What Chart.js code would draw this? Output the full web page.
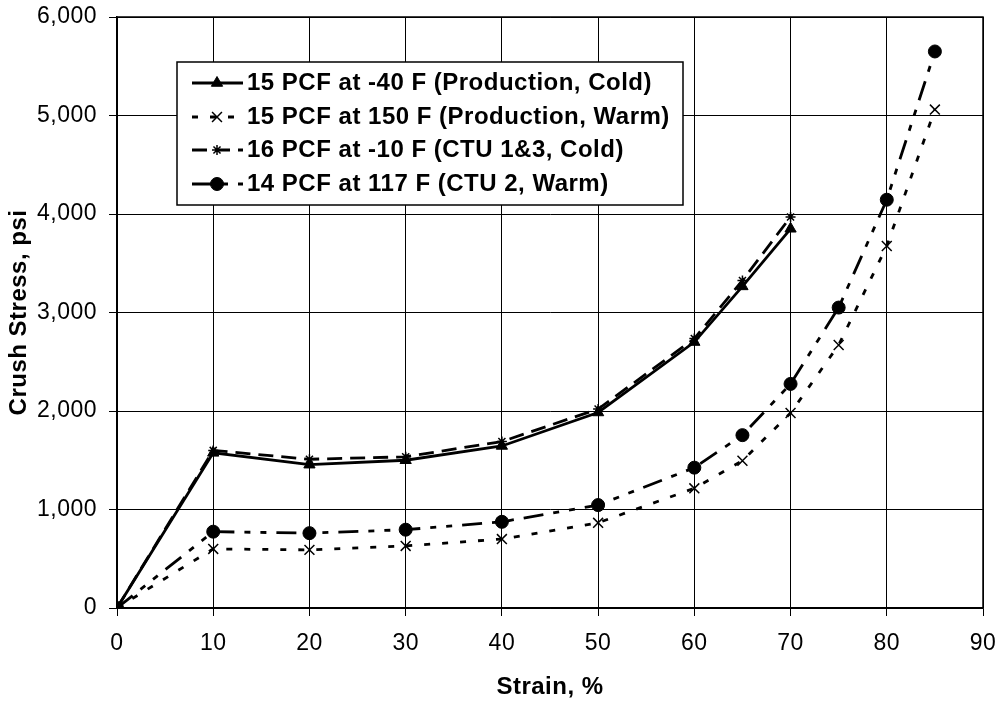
<!DOCTYPE html>
<html lang="en">
<head>
    <meta charset="UTF-8">
    <title>Crush Stress vs Strain</title>
    <script src="https://cdn.jsdelivr.net/npm/chart.js"></script>
    <style>
        body {
            margin: 0;
            background: #fff;
        }
        canvas {
            display: block;
        }
    </style>
</head>
<body>

    <canvas id="grafico" width="1001" height="703"></canvas>

    <script>
        // Strain (%) where each test was read
        const strainCold = [0, 10, 20, 30, 40, 50, 60, 65, 70];
        const strainWarm = [0, 10, 20, 30, 40, 50, 60, 65, 70, 75, 80, 85];

        // Crush stress (psi)
        const prodCold = [0, 1575, 1455, 1500, 1645, 1985, 2700, 3265, 3850];
        const prodWarm = [0, 600, 590, 630, 700, 865, 1215, 1495, 1980, 2670, 3675, 5060];
        const ctuCold = [0, 1600, 1510, 1535, 1690, 2020, 2735, 3325, 3970];
        const ctuWarm = [0, 775, 760, 795, 875, 1045, 1425, 1755, 2275, 3050, 4145, 5650];

        const labels = [
            "15 PCF at -40 F (Production, Cold)",
            "15 PCF at 150 F (Production, Warm)",
            "16 PCF at -10 F (CTU 1&3, Cold)",
            "14 PCF at 117 F (CTU 2, Warm)"
        ];

        const xTitle = "Strain, %";
        const yTitle = "Crush Stress, psi";

        const FONT = 'Arial, "Liberation Sans", sans-serif';

        function pares(xs, ys) {
            return xs.map((x, i) => ({ x: x, y: ys[i] }));
        }

        // letter spacing a bit wider, like the scanned figure
        const espaco = {
            id: "espaco",
            beforeDraw(chart) {
                chart.ctx.letterSpacing = "0.5px";
            }
        };

        // black frame round the plot area
        const moldura = {
            id: "moldura",
            beforeDatasetsDraw(chart) {
                const a = chart.chartArea;
                const ctx = chart.ctx;
                ctx.save();
                ctx.strokeStyle = "#000";
                ctx.lineWidth = 1.5;
                ctx.strokeRect(a.left, a.top, a.right - a.left, a.bottom - a.top);
                ctx.restore();
            }
        };

        // legend box drawn inside the plot
        const legenda = {
            id: "legenda",
            afterDatasetsDraw(chart) {
                const ctx = chart.ctx;
                const box = { x: 177, y: 62, w: 506, h: 143 };
                const linhas = [83, 117, 150, 184];
                ctx.save();
                ctx.fillStyle = "#fff";
                ctx.fillRect(box.x, box.y, box.w, box.h);
                ctx.strokeStyle = "#000";
                ctx.lineWidth = 1.5;
                ctx.strokeRect(box.x, box.y, box.w, box.h);

                chart.data.datasets.forEach((ds, i) => {
                    const y = linhas[i];
                    ctx.save();
                    ctx.strokeStyle = "#000";
                    ctx.lineWidth = ds.borderWidth;
                    ctx.setLineDash(ds.borderDash || []);
                    ctx.beginPath();
                    ctx.moveTo(192, y);
                    ctx.lineTo(243, y);
                    ctx.stroke();
                    ctx.restore();

                    ctx.save();
                    ctx.fillStyle = "#000";
                    ctx.strokeStyle = "#000";
                    ctx.lineWidth = ds.pointBorderWidth;
                    Chart.helpers.drawPoint(ctx, {
                        pointStyle: ds.pointStyle,
                        radius: ds.pointRadius,
                        rotation: 0,
                        borderWidth: ds.pointBorderWidth
                    }, 217, y);
                    ctx.restore();

                    ctx.fillStyle = "#000";
                    ctx.font = "bold 24px " + FONT;
                    ctx.textBaseline = "middle";
                    ctx.textAlign = "left";
                    ctx.fillText(ds.label, 247, y);
                });
                ctx.restore();
            }
        };

        const ctx = document.getElementById("grafico").getContext("2d");
        const grafico = new Chart(ctx, {
            type: "line",
            data: {
                datasets: [
                    {
                        label: labels[0],
                        data: pares(strainCold, prodCold),
                        borderColor: "#000",
                        backgroundColor: "#000",
                        borderWidth: 2.8,
                        pointStyle: "triangle",
                        pointRadius: 6.5,
                        pointBorderWidth: 1
                    },
                    {
                        label: labels[1],
                        data: pares(strainWarm, prodWarm),
                        borderColor: "#000",
                        backgroundColor: "#000",
                        borderWidth: 2.8,
                        borderDash: [6, 12],
                        pointStyle: "crossRot",
                        pointRadius: 7,
                        pointBorderWidth: 1.5
                    },
                    {
                        label: labels[2],
                        data: pares(strainCold, ctuCold),
                        borderColor: "#000",
                        backgroundColor: "#000",
                        borderWidth: 2.8,
                        borderDash: [15, 8],
                        pointStyle: "star",
                        pointRadius: 5,
                        pointBorderWidth: 1.5
                    },
                    {
                        label: labels[3],
                        data: pares(strainWarm, ctuWarm),
                        borderColor: "#000",
                        backgroundColor: "#000",
                        borderWidth: 2.8,
                        borderDash: [20, 10, 6, 10, 6, 10],
                        pointStyle: "circle",
                        pointRadius: 6.5,
                        pointBorderWidth: 1
                    }
                ]
            },
            options: {
                responsive: false,
                animation: false,
                layout: { padding: { top: 17, right: 18, left: 0, bottom: 0 } },
                plugins: {
                    legend: { display: false },
                    tooltip: { enabled: false }
                },
                scales: {
                    x: {
                        type: "linear",
                        min: 0,
                        max: 90,
                        afterFit(scale) {
                            scale.height = 95;
                            scale.paddingLeft = 0;
                            scale.paddingRight = 0;
                        },
                        ticks: {
                            stepSize: 10,
                            color: "#000",
                            padding: 14,
                            maxRotation: 0,
                            font: { family: FONT, size: 23 }
                        },
                        grid: { color: "#000", lineWidth: 1, tickLength: 8 },
                        border: { color: "#000", width: 1.5 },
                        title: {
                            display: true,
                            text: xTitle,
                            color: "#000",
                            padding: { top: 0, bottom: 1 },
                            font: { family: FONT, size: 24, weight: "bold" }
                        }
                    },
                    y: {
                        min: 0,
                        max: 6000,
                        afterFit(scale) {
                            scale.width = 117;
                            scale.paddingTop = 0;
                            scale.paddingBottom = 0;
                        },
                        ticks: {
                            stepSize: 1000,
                            color: "#000",
                            padding: 12,
                            font: { family: FONT, size: 23 },
                            callback: v => v.toLocaleString("en-US")
                        },
                        grid: { color: "#000", lineWidth: 1, tickLength: 8 },
                        border: { color: "#000", width: 1.5 },
                        title: {
                            display: true,
                            text: yTitle,
                            color: "#000",
                            padding: { top: 5, bottom: 0 },
                            font: { family: FONT, size: 24, weight: "bold" }
                        }
                    }
                }
            },
            plugins: [espaco, moldura, legenda]
        });
    </script>

</body>
</html>
